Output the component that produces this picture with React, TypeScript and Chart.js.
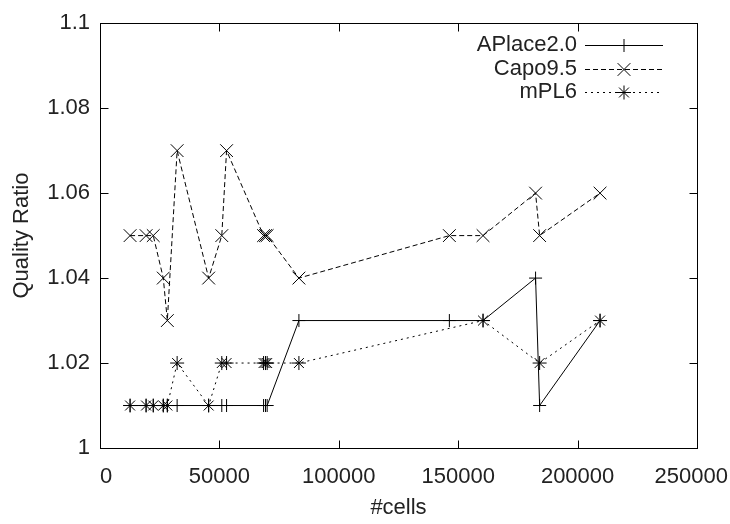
import React, { useEffect, useRef } from 'react';
import { Chart, registerables } from 'chart.js';

Chart.register(...registerables);

// #cells of each benchmark circuit
const cells = [12600, 19300, 22300, 26500, 28200, 32300, 45500, 51000, 53000, 68500, 69300, 70000, 83300, 146300, 160400, 182400, 184100, 209400];
const aplace = [1.01, 1.01, 1.01, 1.01, 1.01, 1.01, 1.01, 1.01, 1.01, 1.01, 1.01, 1.01, 1.03, 1.03, 1.03, 1.04, 1.01, 1.03];
const capo = [1.05, 1.05, 1.05, 1.04, 1.03, 1.07, 1.04, 1.05, 1.07, 1.05, 1.05, 1.05, 1.04, 1.05, 1.05, 1.06, 1.05, 1.06];
const mpl6 = [1.01, 1.01, 1.01, 1.01, 1.01, 1.02, 1.01, 1.02, 1.02, 1.02, 1.02, 1.02, 1.02, null, 1.03, null, 1.02, 1.03];

const seriesNames = ['APlace2.0', 'Capo9.5', 'mPL6'];
const xTicks = [0, 50000, 100000, 150000, 200000, 250000];
const xTickLabels = ['0', '50000', '100000', '150000', '200000', '250000'];
const yTicks = [1, 1.02, 1.04, 1.06, 1.08, 1.1];
const yTickLabels = ['1', '1.02', '1.04', '1.06', '1.08', '1.1'];

const FONT = '"Liberation Sans", Arial, Helvetica, sans-serif';
const FS = 22;
const INK = '#000';
const TEXT = '#222';

const styles = [
  { point: 'cross', radius: 6.5, dash: [] as number[] },
  { point: 'crossRot', radius: 9, dash: [5, 3] },
  { point: 'star', radius: 7, dash: [2, 4] },
];

function drawMarker(ctx: CanvasRenderingContext2D, kind: string, x: number, y: number, r: number) {
  ctx.beginPath();
  if (kind === 'cross' || kind === 'star') {
    ctx.moveTo(x - r, y); ctx.lineTo(x + r, y);
    ctx.moveTo(x, y - r); ctx.lineTo(x, y + r);
  }
  if (kind === 'crossRot' || kind === 'star') {
    const d = r * Math.SQRT1_2;
    ctx.moveTo(x - d, y - d); ctx.lineTo(x + d, y + d);
    ctx.moveTo(x - d, y + d); ctx.lineTo(x + d, y - d);
  }
  ctx.stroke();
}

const decor = {
  id: 'decor',
  afterDraw(chart: any) {
    const { ctx, chartArea: a, scales } = chart;
    const xs = scales.x;
    const ys = scales.y;
    ctx.save();
    ctx.strokeStyle = INK;
    ctx.lineWidth = 1;
    ctx.setLineDash([]);
    const L = Math.round(a.left) + 0.5, R = Math.round(a.right) + 0.5;
    const T = Math.round(a.top) + 0.5, B = Math.round(a.bottom) + 0.5;
    ctx.strokeRect(L, T, R - L, B - T);
    const tl = 8;
    ctx.beginPath();
    xs.ticks.forEach((t: any) => {
      const px = Math.round(xs.getPixelForValue(t.value)) + 0.5;
      ctx.moveTo(px, B); ctx.lineTo(px, B - tl);
      ctx.moveTo(px, T); ctx.lineTo(px, T + tl);
    });
    ys.ticks.forEach((t: any) => {
      const py = Math.round(ys.getPixelForValue(t.value)) + 0.5;
      ctx.moveTo(L, py); ctx.lineTo(L + tl, py);
      ctx.moveTo(R, py); ctx.lineTo(R - tl, py);
    });
    ctx.stroke();

    // x tick labels, kept inside the canvas
    ctx.font = `${FS}px ${FONT}`;
    ctx.fillStyle = TEXT;
    ctx.textAlign = 'center';
    ctx.textBaseline = 'middle';
    xs.ticks.forEach((t: any, i: number) => {
      const label = xTickLabels[i];
      const w = ctx.measureText(label).width;
      let px = xs.getPixelForValue(t.value);
      px = Math.max(px, a.left + w / 2);
      px = Math.min(px, chart.width - 2 - w / 2);
      ctx.fillText(label, px, a.bottom + 29);
    });

    // legend
    const textRight = a.right - 120;
    const lineL = a.right - 112;
    const lineR = a.right - 34;
    seriesNames.forEach((name, i) => {
      const y = a.top + 22 + i * 23.5;
      ctx.fillStyle = TEXT;
      ctx.textAlign = 'right';
      ctx.fillText(name, textRight, y);
      ctx.setLineDash(styles[i].dash);
      ctx.beginPath();
      ctx.moveTo(lineL, Math.round(y) + 0.5);
      ctx.lineTo(lineR, Math.round(y) + 0.5);
      ctx.stroke();
      ctx.setLineDash([]);
      drawMarker(ctx, styles[i].point, (lineL + lineR) / 2, Math.round(y) + 0.5, styles[i].radius);
    });
    ctx.restore();
  },
};

export default function App() {
  const ref = useRef<HTMLCanvasElement>(null);
  useEffect(() => {
    if (!ref.current) return;
    const series = [aplace, capo, mpl6];
    const chart = new Chart(ref.current, {
      type: 'scatter',
      data: {
        datasets: series.map((vals, i) => ({
          label: seriesNames[i],
          data: cells.map((x, j) => ({ x, y: vals[j] })),
          showLine: true,
          spanGaps: true,
          borderColor: INK,
          backgroundColor: INK,
          borderWidth: 1,
          borderDash: styles[i].dash,
          pointStyle: styles[i].point as any,
          pointRadius: styles[i].radius,
          pointHoverRadius: styles[i].radius,
          pointBorderColor: INK,
          pointBorderWidth: 1,
          tension: 0,
        })),
      },
      options: {
        animation: false,
        responsive: false,
        devicePixelRatio: 1,
        layout: { padding: { top: 17, right: 33, left: 0, bottom: 0 } },
        plugins: { legend: { display: false }, tooltip: { enabled: false } },
        scales: {
          x: {
            type: 'linear',
            min: 0,
            max: 250000,
            afterBuildTicks: (s: any) => { s.ticks = xTicks.map((v) => ({ value: v })); },
            afterFit: (s: any) => { s.height = 76; s.paddingLeft = 0; s.paddingRight = 0; },
            grid: { display: false, drawTicks: false },
            border: { display: false },
            ticks: { color: 'rgba(0,0,0,0)', font: { family: FONT, size: FS }, callback: (_v: any, i: number) => xTickLabels[i] },
            title: { display: true, text: '#cells', color: TEXT, font: { family: FONT, size: FS }, padding: { top: 0, bottom: 3 } },
          },
          y: {
            type: 'linear',
            min: 1,
            max: 1.1,
            afterBuildTicks: (s: any) => { s.ticks = yTicks.map((v) => ({ value: v })); },
            afterFit: (s: any) => { s.width = 100; },
            grid: { display: false, drawTicks: false },
            border: { display: false },
            ticks: { color: TEXT, padding: 10, font: { family: FONT, size: FS }, callback: (_v: any, i: number) => yTickLabels[i] },
            title: { display: true, text: 'Quality Ratio', color: TEXT, font: { family: FONT, size: FS }, padding: { top: 9, bottom: 0 } },
          },
        },
      },
      plugins: [decor],
    } as any);
    return () => chart.destroy();
  }, []);
  return (
    <div style={{ position: 'fixed', left: 0, top: 0, width: 730, height: 524, background: '#fff' }}>
      <canvas ref={ref} width={730} height={524} style={{ display: 'block' }} />
    </div>
  );
}
